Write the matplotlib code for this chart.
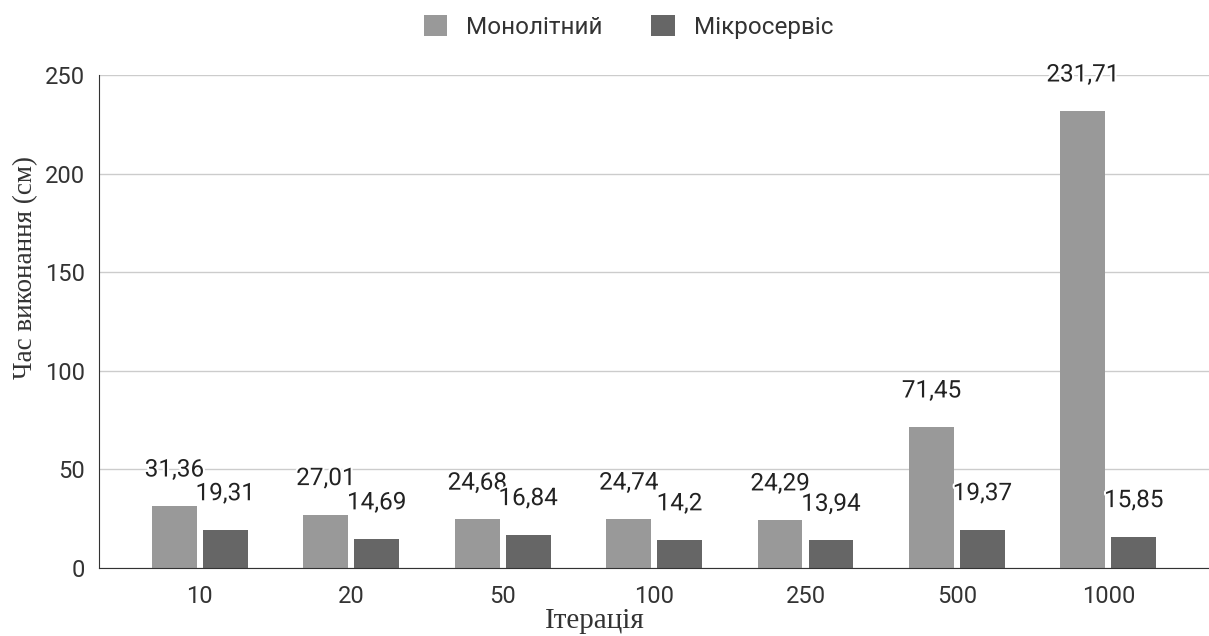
import matplotlib
matplotlib.use("Agg")
import matplotlib.pyplot as plt
import matplotlib.patheffects as pe
import numpy as np

# data
iterations = ["10", "20", "50", "100", "250", "500", "1000"]
monolith = [31.36, 27.01, 24.68, 24.74, 24.29, 71.45, 231.71]
micro = [19.31, 14.69, 16.84, 14.2, 13.94, 19.37, 15.85]
series_names = ["Монолітний", "Мікросервіс"]
yticks = [0, 50, 100, 150, 200, 250]

plt.rcParams['font.family'] = ['Roboto', 'DejaVu Sans']

fig = plt.figure(figsize=(12.09, 6.36), dpi=100)
ax = fig.add_axes([0.082, 0.107, 0.918, 0.775])

x = np.arange(len(iterations))
w = 0.296
off = 0.168
b1 = ax.bar(x - off, monolith, w, color="#999999", label=series_names[0], zorder=3)
b2 = ax.bar(x + off, micro, w, color="#666666", label=series_names[1], zorder=3)

# value labels, white halo like the original
halo = [pe.withStroke(linewidth=3, foreground="white")]
for xs, vals in ((x - off, monolith), (x + off, micro)):
    for xi, v in zip(xs, vals):
        txt = ("%g" % v).replace(".", ",")
        ax.annotate(txt, (xi, v), xytext=(0, 26), textcoords="offset points",
                    ha="center", va="center", fontsize=17.5, color="#222222",
                    path_effects=halo, zorder=5, annotation_clip=False)

ax.set_xlim(-0.665, len(iterations) - 1 + 0.665)
ax.set_ylim(0, 250)
ax.set_yticks(yticks)
ax.set_xticks(x)
ax.set_xticklabels(iterations)
ax.tick_params(length=0, labelsize=17, labelcolor="#333333")
ax.tick_params(axis="x", pad=12)
ax.tick_params(axis="y", pad=10)
ax.grid(axis="y", color="#cccccc", linewidth=1, zorder=0)

for s in ["top", "right"]:
    ax.spines[s].set_visible(False)
ax.spines["left"].set_color("#333333")
ax.spines["bottom"].set_color("#333333")
ax.spines["bottom"].set_zorder(4)

fig.text(0.021, 0.579, "Час виконання (см)", rotation=90, ha="center", va="center",
         fontsize=19.5, family="Liberation Serif", color="#333333")
fig.text(0.492, 0.024, "Ітерація", ha="center", va="center",
         fontsize=21, family="Liberation Serif", color="#333333")

fig.legend(handles=[b1, b2], loc="center", bbox_to_anchor=(0.52, 0.958), ncol=2,
           frameon=False, fontsize=17.5, handlelength=0.95, handleheight=0.95,
           columnspacing=2.0, handletextpad=0.8, labelcolor="#333333")

fig.savefig("out.png", dpi=100)
